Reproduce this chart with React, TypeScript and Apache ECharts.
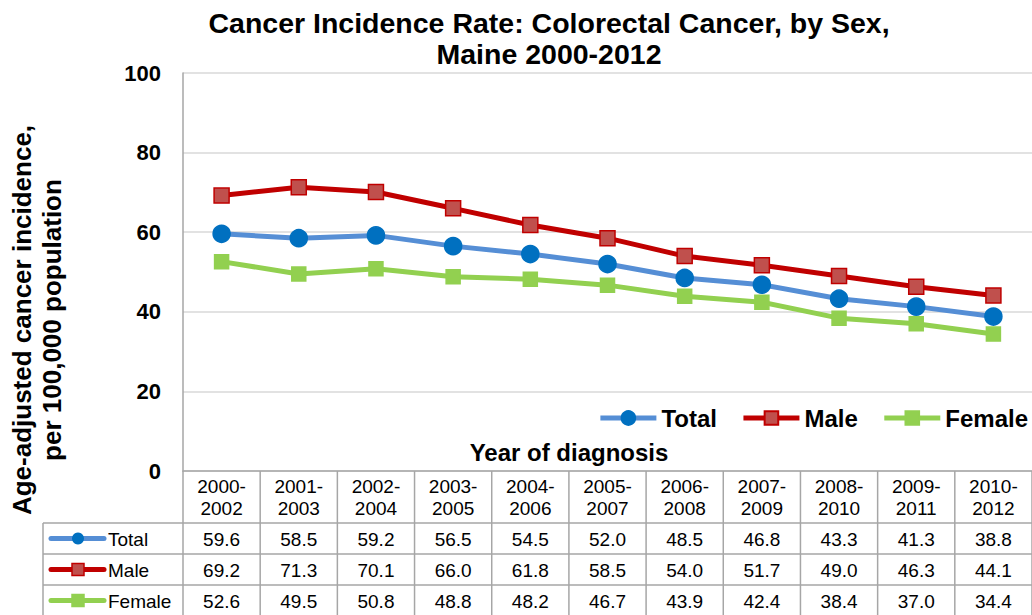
import React, { useEffect, useRef } from "react";
import * as echarts from "echarts";

const categories = ["2000-2002", "2001-2003", "2002-2004", "2003-2005", "2004-2006", "2005-2007", "2006-2008", "2007-2009", "2008-2010", "2009-2011", "2010-2012"];
const totalValues = [59.6, 58.5, 59.2, 56.5, 54.5, 52.0, 48.5, 46.8, 43.3, 41.3, 38.8];
const maleValues = [69.2, 71.3, 70.1, 66.0, 61.8, 58.5, 54.0, 51.7, 49.0, 46.3, 44.1];
const femaleValues = [52.6, 49.5, 50.8, 48.8, 48.2, 46.7, 43.9, 42.4, 38.4, 37.0, 34.4];
const yTicks = [0, 20, 40, 60, 80, 100];

const FONT = "'Liberation Sans', Arial, sans-serif";

const seriesDefs = [
  { name: "Total", data: totalValues, line: "#558ED5", fill: "#0070C0", border: "#0070C0", symbol: "circle", size: 17 },
  { name: "Male", data: maleValues, line: "#C00000", fill: "#C0504D", border: "#C00000", symbol: "rect", size: 15 },
  { name: "Female", data: femaleValues, line: "#92D050", fill: "#92D050", border: "#92D050", symbol: "rect", size: 14 },
];

export default function App() {
  const ref = useRef<HTMLDivElement>(null);
  useEffect(() => {
    if (!ref.current) return;
    const chart = echarts.init(ref.current, undefined, { renderer: "svg" });
    const gridLeft = 183, gridTop = 73, gridBottom = 144, W = 1032, H = 615;
    chart.setOption({
      animation: false,
      backgroundColor: "#fff",
      textStyle: { fontFamily: FONT },
      grid: { left: gridLeft, right: 0, top: gridTop, bottom: gridBottom, containLabel: false },
      legend: {
        right: 4, top: 406, padding: 0, itemWidth: 56, itemHeight: 17, itemGap: 24,
        lineStyle: { width: 5 },
        textStyle: { fontFamily: FONT, fontWeight: "bold", fontSize: 24, color: "#000" },
        data: seriesDefs.map((s) => s.name),
      },
      xAxis: {
        type: "category", data: categories, boundaryGap: true,
        axisLine: { lineStyle: { color: "#A6A6A6", width: 1.5 } },
        axisTick: { show: false }, axisLabel: { show: false },
      },
      yAxis: {
        type: "value", min: yTicks[0], max: yTicks[yTicks.length - 1], interval: 20,
        axisLine: { show: true, lineStyle: { color: "#A6A6A6", width: 1.5 } },
        axisTick: { show: false },
        splitLine: { lineStyle: { color: "#D9D9D9", width: 1.5 } },
        axisLabel: { fontFamily: FONT, fontWeight: "bold", fontSize: 22, color: "#000", margin: 22 },
      },
      series: seriesDefs.map((s) => ({
        name: s.name, type: "line", data: s.data, symbol: s.symbol, symbolSize: s.size,
        lineStyle: { color: s.line, width: 5 },
        itemStyle: { color: s.fill, borderColor: s.border, borderWidth: 1.5 },
        color: s.line,
      })),
    });

    const els: any[] = [];
    const lineColor = "#A6A6A6";
    const n = categories.length;
    const x0 = chart.convertToPixel({ xAxisIndex: 0 }, 0) as number;
    const x1 = chart.convertToPixel({ xAxisIndex: 0 }, 1) as number;
    const colW = x1 - x0;
    const yBase = chart.convertToPixel({ yAxisIndex: 0 }, 0) as number;
    const headerBottom = yBase + 52;
    const rowH = 31;
    const tableLeft = 43;
    const ln = (xa: number, ya: number, xb: number, yb: number) =>
      els.push({ type: "line", shape: { x1: xa, y1: ya, x2: xb, y2: yb }, style: { stroke: lineColor, lineWidth: 1.5 }, silent: true });
    for (let r = 0; r <= 3; r++) ln(tableLeft, headerBottom + r * rowH, W, headerBottom + r * rowH);
    ln(tableLeft, headerBottom, tableLeft, H);
    for (let i = 0; i <= n; i++) {
      const bx = x0 - colW / 2 + i * colW;
      ln(bx, yBase, bx, H);
    }
    categories.forEach((c, i) => {
      const cx = chart.convertToPixel({ xAxisIndex: 0 }, i) as number;
      const parts = c.split("-");
      els.push({ type: "text", x: cx, y: yBase + 26, style: { text: parts[0] + "-\n" + parts[1], font: `19px ${FONT}`, fill: "#000", align: "center", verticalAlign: "middle", lineHeight: 22 }, silent: true });
      seriesDefs.forEach((s, r) => {
        els.push({ type: "text", x: cx, y: headerBottom + r * rowH + rowH / 2 + 1, style: { text: s.data[i].toFixed(1), font: `19px ${FONT}`, fill: "#000", align: "center", verticalAlign: "middle" }, silent: true });
      });
    });
    seriesDefs.forEach((s, r) => {
      const cy = headerBottom + r * rowH + rowH / 2;
      els.push({ type: "line", shape: { x1: 51, y1: cy, x2: 104, y2: cy }, style: { stroke: s.line, lineWidth: 5, lineCap: "round" }, silent: true });
      if (s.symbol === "circle") {
        els.push({ type: "circle", shape: { cx: 78, cy, r: 6 }, style: { fill: s.fill }, silent: true });
      } else {
        els.push({ type: "rect", shape: { x: 72, y: cy - 6, width: 12, height: 12 }, style: { fill: s.fill, stroke: s.border, lineWidth: 1.5 }, silent: true });
      }
      els.push({ type: "text", x: 108, y: cy + 1, style: { text: s.name, font: `19px ${FONT}`, fill: "#000", align: "left", verticalAlign: "middle" }, silent: true });
    });
    els.push({ type: "text", x: 549, y: 38, style: { text: "Cancer Incidence Rate: Colorectal Cancer, by Sex,\nMaine 2000-2012", font: `bold 28.5px ${FONT}`, fill: "#000", align: "center", verticalAlign: "middle", lineHeight: 31 }, silent: true });
    els.push({ type: "text", x: 569, y: 452, style: { text: "Year of diagnosis", font: `bold 24px ${FONT}`, fill: "#000", align: "center", verticalAlign: "middle" }, silent: true });
    els.push({ type: "text", x: 37, y: 320, rotation: Math.PI / 2, style: { text: "Age-adjusted cancer incidence,\nper 100,000 population", font: `bold 26px ${FONT}`, fill: "#000", align: "center", verticalAlign: "middle", lineHeight: 30 }, silent: true });
    chart.setOption({ graphic: els });
    return () => chart.dispose();
  }, []);
  return <div ref={ref} style={{ position: "absolute", left: 0, top: 0, width: 1032, height: 615 }} />;
}
